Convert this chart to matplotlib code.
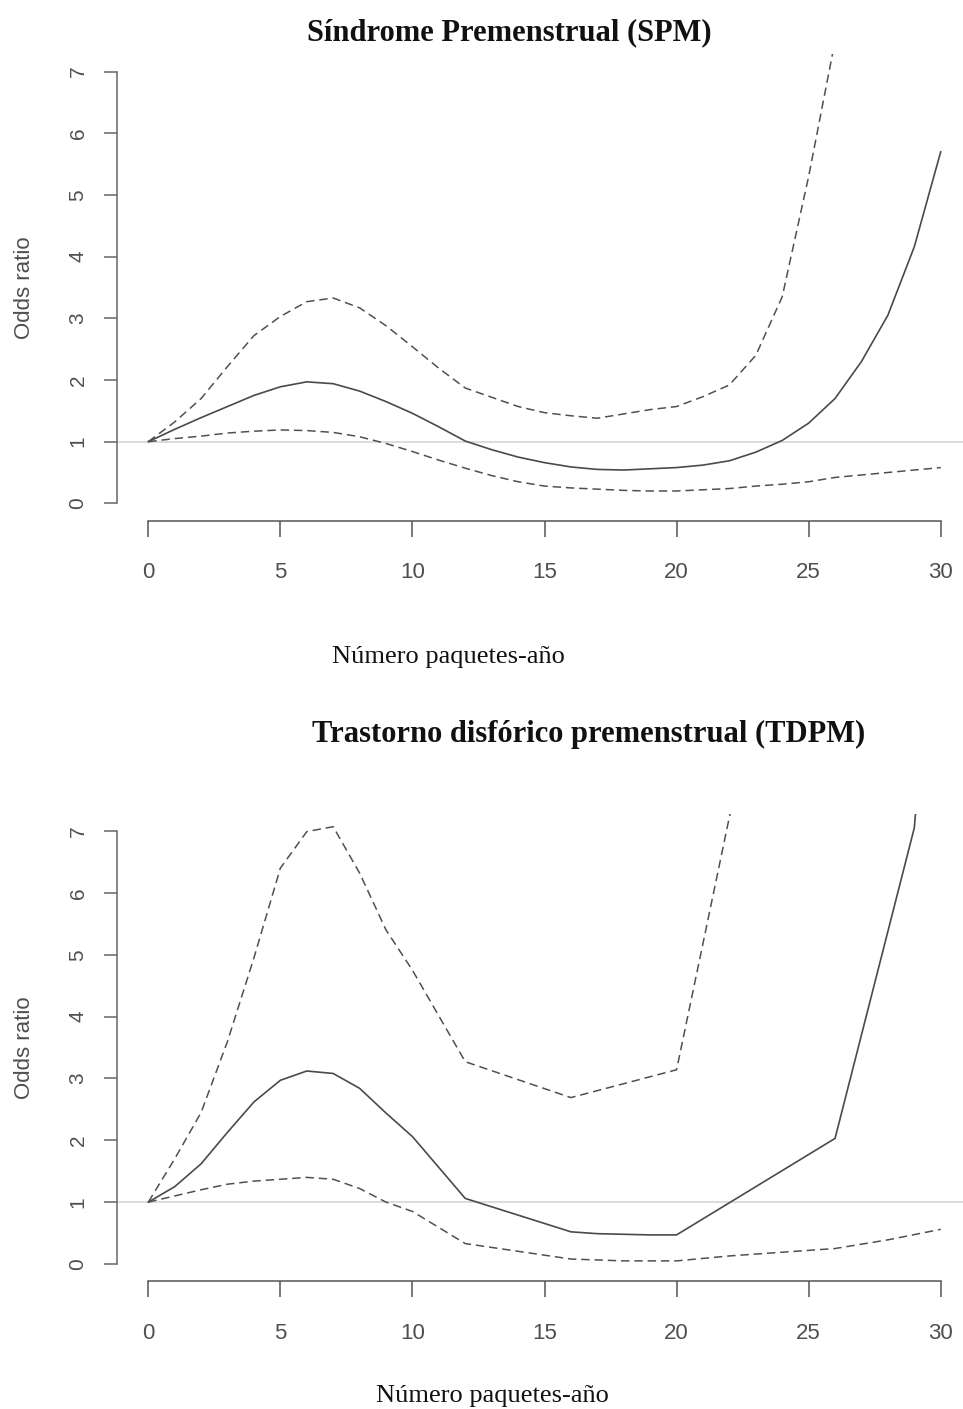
import matplotlib
matplotlib.use("Agg")
import matplotlib.pyplot as plt

# ---- data: odds ratio vs pack-years, with confidence bands ----
spm_x = list(range(0, 31))
spm_or = [1.0, 1.2, 1.39, 1.57, 1.75, 1.89, 1.97, 1.94, 1.82, 1.65, 1.46,
          1.24, 1.01, 0.87, 0.75, 0.66, 0.59, 0.55, 0.54, 0.56, 0.58,
          0.62, 0.69, 0.83, 1.02, 1.30, 1.70, 2.30, 3.05, 4.16, 5.70]
spm_up_x = list(range(0, 27))
spm_up = [1.0, 1.32, 1.70, 2.22, 2.72, 3.03, 3.27, 3.33, 3.17, 2.88, 2.54,
          2.19, 1.87, 1.72, 1.57, 1.47, 1.42, 1.38, 1.45, 1.52, 1.57,
          1.73, 1.92, 2.40, 3.35, 5.30, 7.50]
spm_lo = [1.0, 1.05, 1.09, 1.14, 1.17, 1.19, 1.18, 1.15, 1.08, 0.97, 0.84,
          0.70, 0.57, 0.45, 0.35, 0.28, 0.25, 0.23, 0.21, 0.20, 0.20,
          0.22, 0.24, 0.28, 0.31, 0.35, 0.42, 0.46, 0.50, 0.54, 0.58]

tdpm_x = [0, 1, 2, 3, 4, 5, 6, 7, 8, 9, 10, 12, 16, 17, 19, 20, 26, 29, 30]
tdpm_or = [1.0, 1.25, 1.62, 2.13, 2.62, 2.97, 3.12, 3.08, 2.84, 2.44, 2.06,
           1.06, 0.52, 0.49, 0.47, 0.47, 2.03, 7.05, 12.0]
tdpm_up_x = [0, 1, 2, 3, 4, 5, 6, 7, 8, 9, 10, 12, 16, 20, 26]
tdpm_up = [1.0, 1.7, 2.45, 3.6, 4.95, 6.4, 6.99, 7.07, 6.32, 5.4, 4.75,
           3.27, 2.69, 3.14, 15.4]
tdpm_lo_x = [0, 1, 2, 3, 4, 5, 6, 7, 8, 9, 10, 12, 16, 18, 20, 22, 26, 28, 30]
tdpm_lo = [1.0, 1.1, 1.2, 1.29, 1.34, 1.37, 1.40, 1.37, 1.22, 1.0, 0.85,
           0.33, 0.08, 0.05, 0.05, 0.13, 0.25, 0.39, 0.56]

x_ticks = [0, 5, 10, 15, 20, 25, 30]
y_ticks = [0, 1, 2, 3, 4, 5, 6, 7]

titles = ["Síndrome Premenstrual (SPM)", "Trastorno disfórico premenstrual (TDPM)"]
x_label = "Número paquetes-año"
y_label = "Odds ratio"

W, H = 963, 1409
fig = plt.figure(figsize=(W / 100, H / 100), dpi=100)

SANS = "Liberation Sans"
SERIF = "Liberation Serif"
TXT = "#4f4f4f"
AX = "#555555"


def panel(y_top, y_bot):
    left, right = 116.6, 972.4
    ax = fig.add_axes([left / W, 1 - y_bot / H, (right - left) / W, (y_bot - y_top) / H])
    ax.set_xlim(-1.2, 31.2)
    ax.set_ylim(-0.28, 7.28)
    for s in ("top", "right"):
        ax.spines[s].set_visible(False)
    ax.spines["left"].set_bounds(0, 7)
    ax.spines["bottom"].set_bounds(0, 30)
    ax.spines["left"].set_color("#666666")
    ax.spines["bottom"].set_color(AX)
    ax.spines["left"].set_linewidth(1.1)
    ax.spines["bottom"].set_linewidth(1.1)
    ax.set_xticks(x_ticks)
    ax.set_xticklabels([str(v) for v in x_ticks], fontfamily=SANS, fontsize=16, color=TXT)
    ax.set_yticks(y_ticks)
    ax.set_yticklabels([str(v) for v in y_ticks], fontfamily=SANS, fontsize=15,
                       color=TXT, rotation=90, va="center")
    ax.tick_params(axis="x", length=11.5, width=1.1, color=AX, pad=18.5)
    ax.tick_params(axis="y", length=9.4, width=1.1, color="#666666", pad=11.5)
    ax.axhline(1, color="#d2d2d2", lw=1.1, zorder=1)
    return ax


def curves(ax, xs, ors, ux, up, lx, lo):
    ax.plot(xs, ors, color="#4a4a4a", lw=1.2, zorder=3)
    for cx, cy in ((ux, up), (lx, lo)):
        ln, = ax.plot(cx, cy, color="#505050", lw=1.1, zorder=3)
        ln.set_dashes([5.5, 3.2])


ax1 = panel(54.4, 520.6)
curves(ax1, spm_x, spm_or, spm_up_x, spm_up, spm_x, spm_lo)

ax2 = panel(813.7, 1281.3)
curves(ax2, tdpm_x, tdpm_or, tdpm_up_x, tdpm_up, tdpm_lo_x, tdpm_lo)

# titles and axis labels
fig.text(509 / W, 1 - 33 / H, titles[0], fontfamily=SERIF, fontweight="bold",
         fontsize=22, ha="center", va="center", color="#111111")
fig.text(589 / W, 1 - 734 / H, titles[1], fontfamily=SERIF, fontweight="bold",
         fontsize=22, ha="center", va="center", color="#111111")
fig.text(448 / W, 1 - 657 / H, x_label, fontfamily=SERIF, fontsize=19,
         ha="center", va="center", color="#111111")
fig.text(492 / W, 1 - 1396 / H, x_label, fontfamily=SERIF, fontsize=19,
         ha="center", va="center", color="#111111")
fig.text(24 / W, 1 - 288 / H, y_label, fontfamily=SANS, fontsize=16, rotation=90,
         ha="center", va="center", color=TXT)
fig.text(24 / W, 1 - 1048 / H, y_label, fontfamily=SANS, fontsize=16, rotation=90,
         ha="center", va="center", color=TXT)

fig.savefig("out.png", dpi=100, facecolor="white")
